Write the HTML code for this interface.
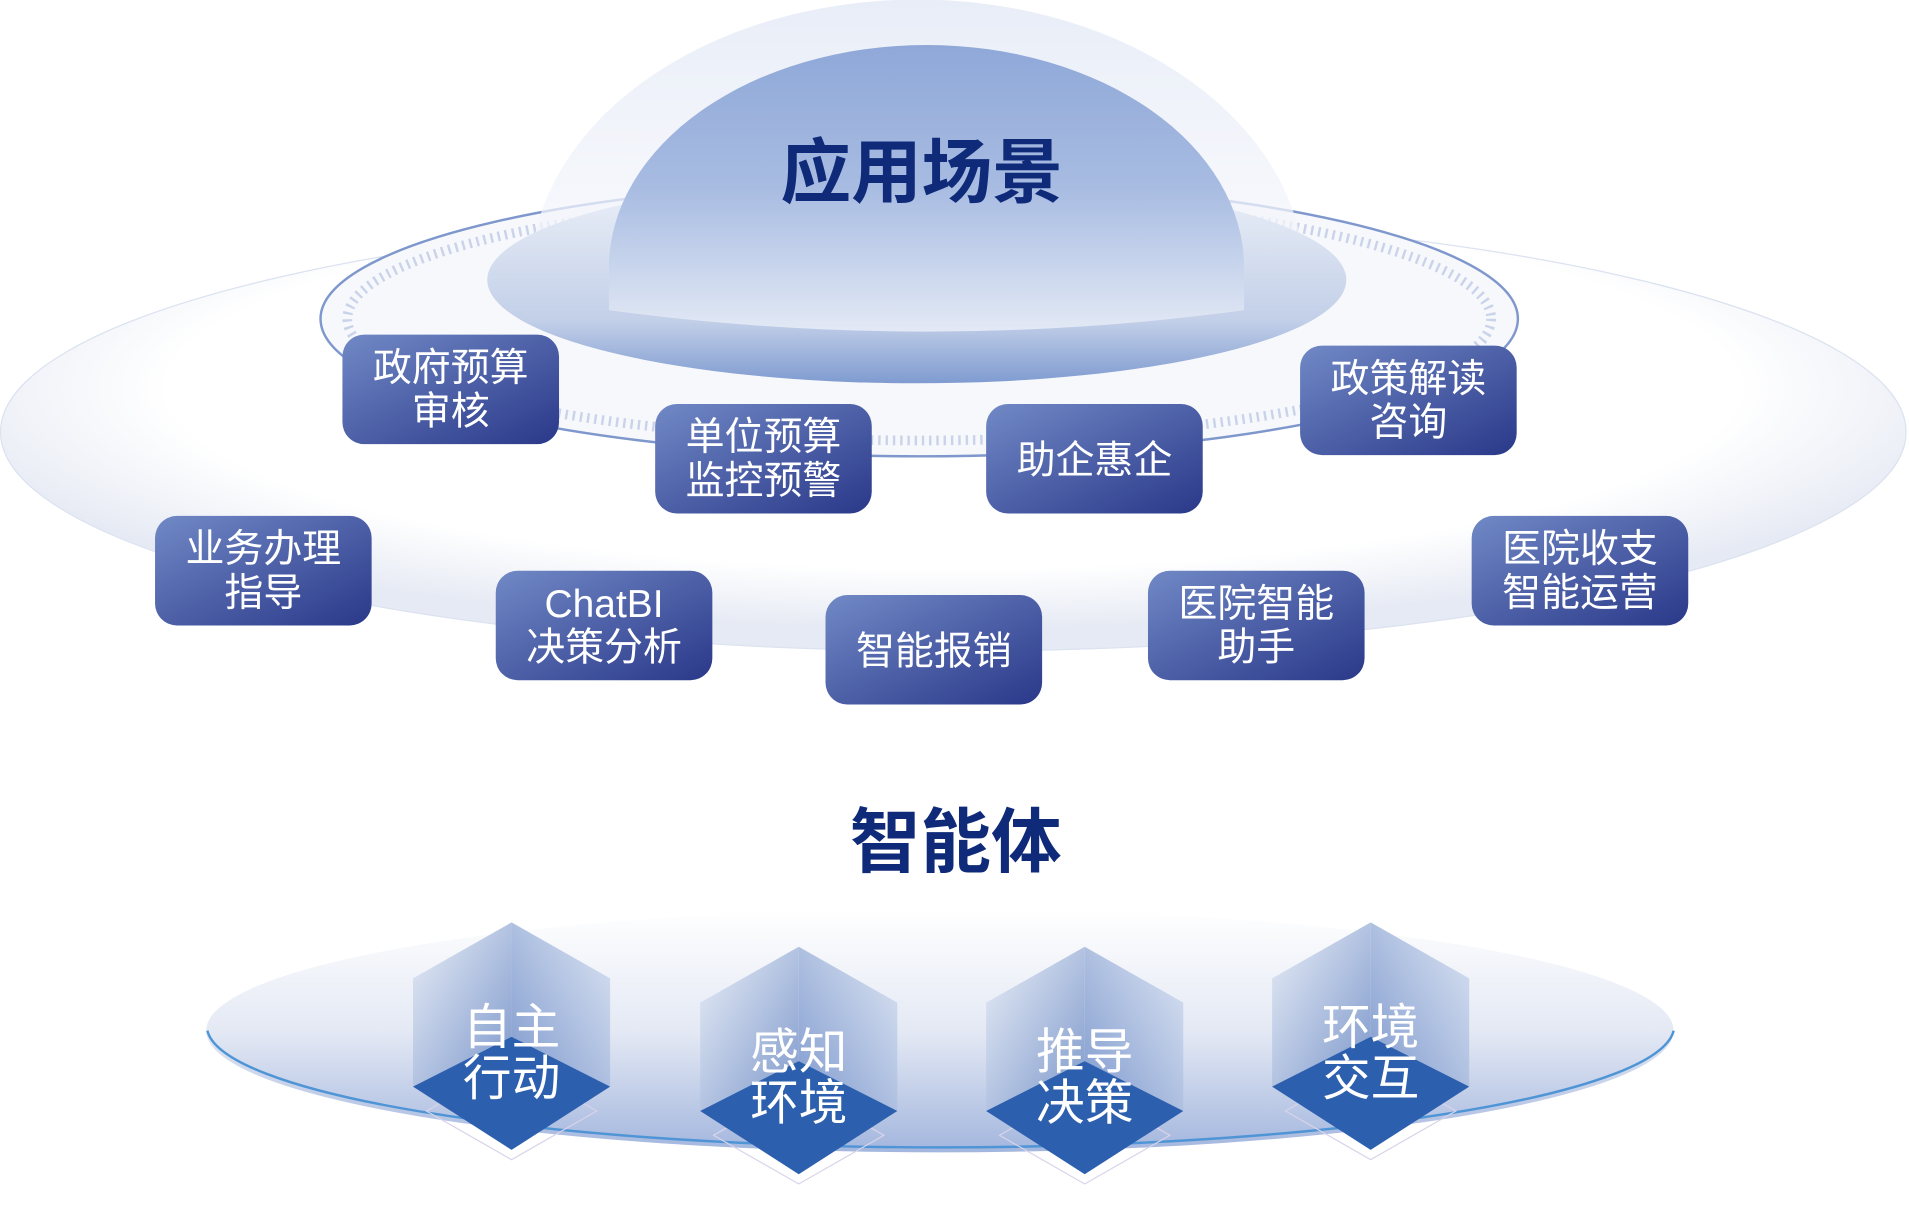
<!DOCTYPE html>
<html><head><meta charset="utf-8"><style>
html,body{margin:0;padding:0;background:#fff;}
svg{display:block}
text{font-family:"Liberation Sans","Noto Sans CJK SC",sans-serif;}
</style></head><body>
<svg width="1909" height="1229" viewBox="0 0 1568 1010" xmlns="http://www.w3.org/2000/svg">
<defs>
<radialGradient id="outer" cx="0.5" cy="0.4" r="0.55">
<stop offset="0.75" stop-color="#fff"/><stop offset="1" stop-color="#e6eaf4"/></radialGradient>
<linearGradient id="dome1" x1="0" y1="0" x2="0" y2="1">
<stop offset="0" stop-color="#e8edf7"/><stop offset="1" stop-color="#f8f9fd" stop-opacity="0.6"/></linearGradient>
<linearGradient id="dome2" x1="0" y1="0" x2="0" y2="1">
<stop offset="0" stop-color="#8fa8d8"/><stop offset="0.5" stop-color="#a8bce2"/><stop offset="1" stop-color="#e3e9f5"/></linearGradient>
<linearGradient id="base" x1="0" y1="0" x2="0" y2="1">
<stop offset="0" stop-color="#eef2f9"/><stop offset="0.7" stop-color="#c2cfe8"/><stop offset="1" stop-color="#7f9bd0"/></linearGradient>
<linearGradient id="btn" x1="0" y1="0" x2="1" y2="1">
<stop offset="0" stop-color="#7189c6"/><stop offset="1" stop-color="#2a3889"/></linearGradient>
<linearGradient id="plat" x1="0" y1="0" x2="0" y2="1">
<stop offset="0" stop-color="#ffffff"/><stop offset="0.5" stop-color="#e4e9f4"/><stop offset="1" stop-color="#a3b6de"/></linearGradient>
<linearGradient id="cubeL" x1="0" y1="0" x2="1" y2="1">
<stop offset="0" stop-color="#e9eef7"/><stop offset="1" stop-color="#7d98cb"/></linearGradient>
<linearGradient id="cubeR" x1="1" y1="0" x2="0" y2="1">
<stop offset="0" stop-color="#dde5f3"/><stop offset="1" stop-color="#7f9ace"/></linearGradient>
</defs>
<ellipse cx="783" cy="355" rx="783" ry="180" fill="url(#outer)" stroke="#dbe2f0" stroke-width="1"/>
<ellipse cx="755" cy="262" rx="492" ry="113" fill="#f7f8fc" stroke="#7e97cc" stroke-width="2"/>
<ellipse cx="755" cy="262" rx="470" ry="100" fill="none" stroke="#c9d3e9" stroke-width="8" stroke-dasharray="2 4"/>
<path d="M435 230 A318 230 0 0 1 1072 230 L1072 260 L435 260 Z" fill="url(#dome1)"/>
<ellipse cx="753" cy="230" rx="353" ry="85" fill="url(#base)"/>
<path d="M500 255 L500 220 A261 183 0 0 1 1022 220 L1022 255 Q761 290 500 255 Z" fill="url(#dome2)"/>
<text x="757" y="162" text-anchor="middle" font-size="58" font-weight="bold" fill="#0f2a78">应用场景</text>
<g font-size="32" fill="#fff" text-anchor="middle">
<rect x="281" y="275" width="178" height="90" rx="18" fill="url(#btn)"/><text x="370" y="313">政府预算</text><text x="370" y="349">审核</text>
<rect x="538" y="332" width="178" height="90" rx="18" fill="url(#btn)"/><text x="627" y="370">单位预算</text><text x="627" y="406">监控预警</text>
<rect x="810" y="332" width="178" height="90" rx="18" fill="url(#btn)"/><text x="899" y="389">助企惠企</text>
<rect x="1068" y="284" width="178" height="90" rx="18" fill="url(#btn)"/><text x="1157" y="322">政策解读</text><text x="1157" y="358">咨询</text>
<rect x="127" y="424" width="178" height="90" rx="18" fill="url(#btn)"/><text x="216" y="462">业务办理</text><text x="216" y="498">指导</text>
<rect x="407" y="469" width="178" height="90" rx="18" fill="url(#btn)"/><text x="496" y="507">ChatBI</text><text x="496" y="543">决策分析</text>
<rect x="678" y="489" width="178" height="90" rx="18" fill="url(#btn)"/><text x="767" y="546">智能报销</text>
<rect x="943" y="469" width="178" height="90" rx="18" fill="url(#btn)"/><text x="1032" y="507">医院智能</text><text x="1032" y="543">助手</text>
<rect x="1209" y="424" width="178" height="90" rx="18" fill="url(#btn)"/><text x="1298" y="462">医院收支</text><text x="1298" y="498">智能运营</text>
</g>
<text x="785" y="712" text-anchor="middle" font-size="58" font-weight="bold" fill="#0f2a78">智能体</text>
<ellipse cx="772" cy="847" rx="603" ry="100" fill="url(#plat)"/>
<path d="M170 847 A603 100 0 0 0 1375 847" fill="none" stroke="#4f95d6" stroke-width="2"/>
<g>
<g transform="translate(420,758)">
<path d="M-70 155 L0 115 L70 155 L0 195 Z" fill="none" stroke="#d8d3ea"/>
<path d="M0 0 L-81 46 L-81 135 L0 94 Z" fill="url(#cubeL)"/><path d="M0 0 L81 46 L81 135 L0 94 Z" fill="url(#cubeR)"/>
<path d="M-81 135 L0 94 L81 135 L0 187 Z" fill="#2c5fad"/>
<text x="0" y="100" text-anchor="middle" font-size="40" fill="#fff">自主</text><text x="0" y="142" text-anchor="middle" font-size="40" fill="#fff">行动</text></g>
<g transform="translate(656,778)">
<path d="M-70 155 L0 115 L70 155 L0 195 Z" fill="none" stroke="#d8d3ea"/>
<path d="M0 0 L-81 46 L-81 135 L0 94 Z" fill="url(#cubeL)"/><path d="M0 0 L81 46 L81 135 L0 94 Z" fill="url(#cubeR)"/>
<path d="M-81 135 L0 94 L81 135 L0 187 Z" fill="#2c5fad"/>
<text x="0" y="100" text-anchor="middle" font-size="40" fill="#fff">感知</text><text x="0" y="142" text-anchor="middle" font-size="40" fill="#fff">环境</text></g>
<g transform="translate(891,778)">
<path d="M-70 155 L0 115 L70 155 L0 195 Z" fill="none" stroke="#d8d3ea"/>
<path d="M0 0 L-81 46 L-81 135 L0 94 Z" fill="url(#cubeL)"/><path d="M0 0 L81 46 L81 135 L0 94 Z" fill="url(#cubeR)"/>
<path d="M-81 135 L0 94 L81 135 L0 187 Z" fill="#2c5fad"/>
<text x="0" y="100" text-anchor="middle" font-size="40" fill="#fff">推导</text><text x="0" y="142" text-anchor="middle" font-size="40" fill="#fff">决策</text></g>
<g transform="translate(1126,758)">
<path d="M-70 155 L0 115 L70 155 L0 195 Z" fill="none" stroke="#d8d3ea"/>
<path d="M0 0 L-81 46 L-81 135 L0 94 Z" fill="url(#cubeL)"/><path d="M0 0 L81 46 L81 135 L0 94 Z" fill="url(#cubeR)"/>
<path d="M-81 135 L0 94 L81 135 L0 187 Z" fill="#2c5fad"/>
<text x="0" y="100" text-anchor="middle" font-size="40" fill="#fff">环境</text><text x="0" y="142" text-anchor="middle" font-size="40" fill="#fff">交互</text></g>
</g>
</svg>
</body></html>
